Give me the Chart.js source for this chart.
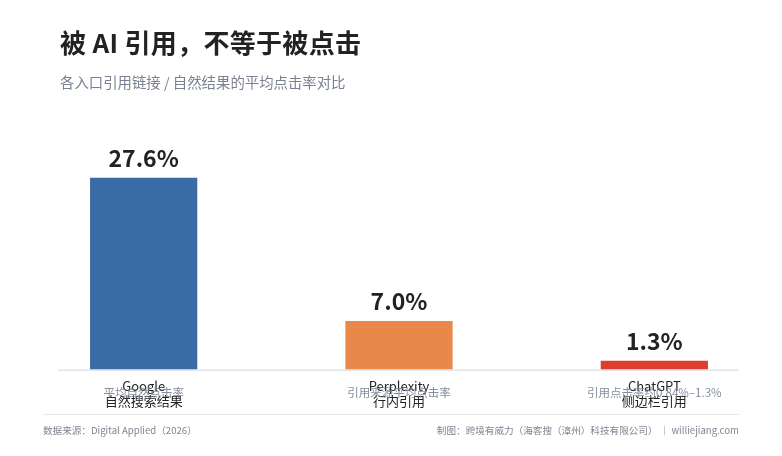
<!DOCTYPE html>
<html>
<head>
<meta charset="utf-8">
<script src="https://cdn.jsdelivr.net/npm/chart.js@4.4.1/dist/chart.umd.min.js"></script>
<style>
  html, body { margin: 0; padding: 0; background: #fff; }
  body { width: 782px; height: 456px; position: relative; overflow: hidden;
         font-family: "Noto Sans CJK SC", "Noto Sans", sans-serif; }
  #wrap { position: absolute; left: 0; top: 0; width: 782px; height: 456px; }
  .title { position: absolute; left: 60px; top: 23px; font-size: 26px; font-weight: 700; color: #222; letter-spacing: 0.3px; }
  .sub { position: absolute; left: 60px; top: 71px; font-size: 14.4px; color: #7b8190; }
  .foot { position: absolute; top: 423px; font-size: 9.6px; color: #7f8591; }
  .rule { position: absolute; left: 43px; width: 696px; top: 414px; height: 1px; background: #e6e8ec; }
</style>
</head>
<body>
<div id="wrap"><canvas id="c"></canvas></div>
<div class="title">被 AI 引用，不等于被点击</div>
<div class="sub">各入口引用链接 / 自然结果的平均点击率对比</div>
<div class="rule"></div>
<div class="foot" style="left:43px">数据来源：Digital Applied（2026）</div>
<div class="foot" style="right:43px">制图：跨境有威力（海客搜（漳州）科技有限公司） ｜ williejiang.com</div>
<script>
// data
const categories = [['Google', '自然搜索结果'], ['Perplexity', '行内引用'], ['ChatGPT', '侧边栏引用']];
const ctrValues = [27.6, 7.0, 1.3];
const valueLabels = ['27.6%', '7.0%', '1.3%'];
const subLabels = ['平均自然点击率', '引用来源平均点击率', '引用点击率约0.84%–1.3%'];
const barColors = ['#3b6ba5', '#e8894a', '#dc3f2c'];

const FONT = '"Noto Sans CJK SC", "Noto Sans", sans-serif';

// value text above each bar, gray note under axis, baseline
const decorations = {
  id: 'decorations',
  afterDatasetsDraw(chart) {
    const ctx = chart.ctx;
    const meta = chart.getDatasetMeta(0);
    const y0 = chart.scales.y.getPixelForValue(0);
    ctx.save();
    ctx.strokeStyle = '#e3e5ea';
    ctx.lineWidth = 1.5;
    ctx.beginPath();
    ctx.moveTo(58, y0 + 0.5);
    ctx.lineTo(739, y0 + 0.5);
    ctx.stroke();

    ctx.textAlign = 'center';
    meta.data.forEach((bar, i) => {
      ctx.fillStyle = '#222';
      ctx.font = 'bold 23px ' + FONT;
      ctx.textBaseline = 'alphabetic';
      ctx.fillText(valueLabels[i], bar.x, bar.y - 11);

      ctx.fillStyle = 'rgba(120,128,145,0.9)';
      ctx.font = '11.5px ' + FONT;
      ctx.textBaseline = 'middle';
      ctx.fillText(subLabels[i], bar.x, y0 + 23);
    });
    ctx.restore();
  }
};

new Chart(document.getElementById('c'), {
  type: 'bar',
  data: {
    labels: categories,
    datasets: [{
      data: ctrValues,
      backgroundColor: barColors,
      borderWidth: 0,
      barPercentage: 0.42,
      categoryPercentage: 1
    }]
  },
  options: {
    responsive: true,
    maintainAspectRatio: false,
    animation: false,
    layout: { padding: { left: 16, right: 0, top: 161, bottom: 39 } },
    plugins: { legend: { display: false }, tooltip: { enabled: false } },
    scales: {
      x: {
        grid: { display: false, drawTicks: false },
        border: { display: false },
        ticks: {
          color: '#222',
          padding: 8,
          font: { family: FONT, size: 13, lineHeight: 1.2 }
        }
      },
      y: {
        display: false,
        min: 0,
        max: 30
      }
    }
  },
  plugins: [decorations]
});
</script>
</body>
</html>
